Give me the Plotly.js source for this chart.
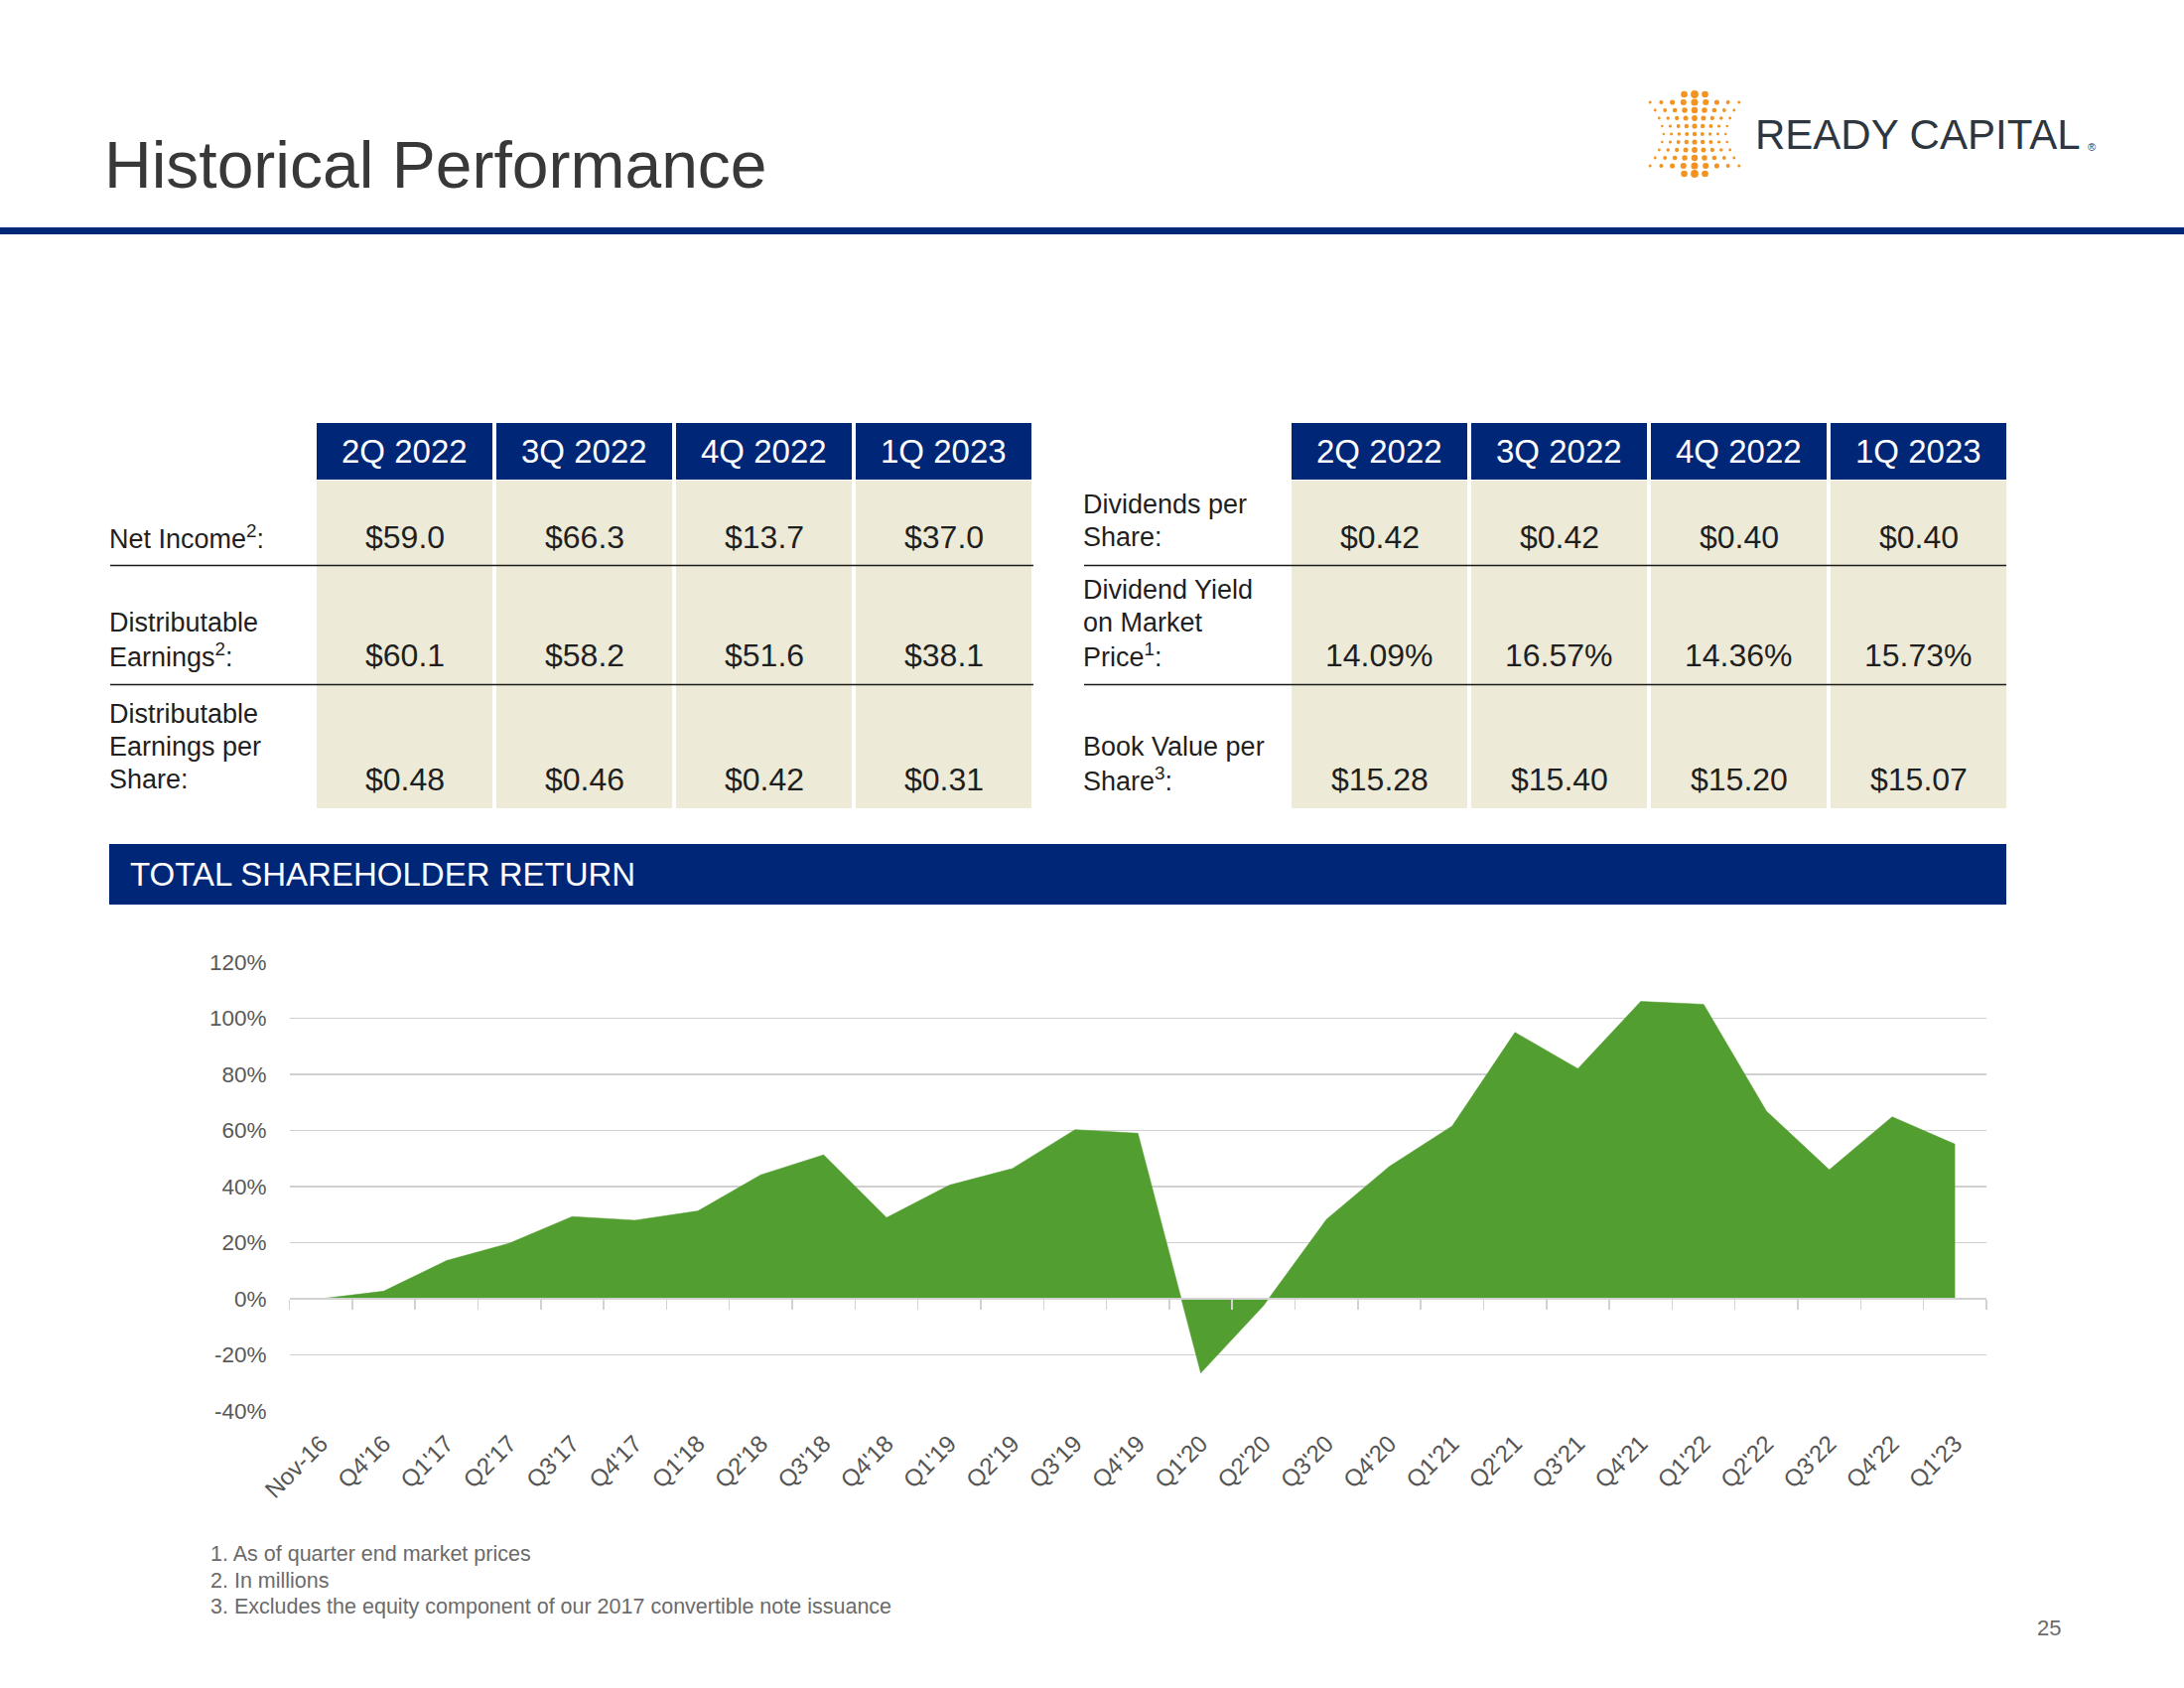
<!DOCTYPE html>
<html>
<head>
<meta charset="utf-8">
<script src="https://cdn.plot.ly/plotly-3.0.1.min.js"></script>
<style>
html,body{margin:0;padding:0;background:#ffffff;}
#chart{width:2200px;height:1700px;}
</style>
</head>
<body>
<div id="chart"></div>
<script>
// ---------------- DATA ----------------
const quarters = ["Nov-16","Q4'16","Q1'17","Q2'17","Q3'17","Q4'17","Q1'18","Q2'18","Q3'18","Q4'18",
  "Q1'19","Q2'19","Q3'19","Q4'19","Q1'20","Q2'20","Q3'20","Q4'20","Q1'21","Q2'21",
  "Q3'21","Q4'21","Q1'22","Q2'22","Q3'22","Q4'22","Q1'23"];
const totalReturn = [0, 2.7, 13.6, 19.8, 29.3, 28.0, 31.3, 44.2, 51.3, 28.9,
  40.5, 46.4, 60.3, 59.0, -26.5, -2.4, 28.3, 47.2, 61.6, 95.0,
  82.0, 106.0, 105.0, 66.9, 46.0, 64.9, 55.1];
const yTickValues = [-40, -20, 0, 20, 40, 60, 80, 100, 120];

const tableQuarters = ["2Q 2022","3Q 2022","4Q 2022","1Q 2023"];
const leftLabels = ["Net Income<sup>2</sup>:", "Distributable<br>Earnings<sup>2</sup>:", "Distributable<br>Earnings per<br>Share:"];
const netIncome = ["$59.0","$66.3","$13.7","$37.0"];
const distributableEarnings = ["$60.1","$58.2","$51.6","$38.1"];
const distributableEPS = ["$0.48","$0.46","$0.42","$0.31"];
const rightLabels = ["Dividends per<br>Share:", "Dividend Yield<br>on Market<br>Price<sup>1</sup>:", "Book Value per<br>Share<sup>3</sup>:"];
const dividendsPerShare = ["$0.42","$0.42","$0.40","$0.40"];
const dividendYield = ["14.09%","16.57%","14.36%","15.73%"];
const bookValuePerShare = ["$15.28","$15.40","$15.20","$15.07"];

const pageTitle = "Historical Performance";
const sectionTitle = "TOTAL SHAREHOLDER RETURN";
const logoText = "READY CAPITAL";
const footnotes = ["1. As of quarter end market prices", "2. In millions", "3. Excludes the equity component of our 2017 convertible note issuance"];
const pageNumber = "25";

// ---------------- LAYOUT HELPERS ----------------
const W = 2200, H = 1700;
const px = x => x / W;
const py = y => 1 - y / H;
const FONT = "Liberation Sans, Arial, sans-serif";
const NAVY = "#002677";
const BEIGE = "#edebd7";
const GREEN = "#529e31";

const shapes = [];
const anns = [];

function rect(x0, y0, x1, y1, color) {
  shapes.push({type:"rect", xref:"paper", yref:"paper", x0:px(x0), x1:px(x1), y0:py(y1), y1:py(y0),
    fillcolor:color, line:{width:0}, layer:"below"});
}
function hline(x0, x1, y, color, w) {
  shapes.push({type:"line", xref:"paper", yref:"paper", x0:px(x0), x1:px(x1), y0:py(y), y1:py(y),
    line:{color:color, width:w}});
}
function text(x, y, t, o) {
  anns.push({xref:"paper", yref:"paper", x:px(x), y:py(y), text:t, showarrow:false,
    xanchor:o.xanchor || "center", yanchor:o.yanchor || "middle", align:o.align || "left",
    font:{family:FONT, size:o.size, color:o.color}});
}

// title + rule
text(103, 166, pageTitle, {xanchor:"left", size:66, color:"#383838"});
rect(0, 229, 2200, 236, NAVY);

// logo text
text(1766, 136, logoText, {xanchor:"left", size:42, color:"#2e3640"});
text(2107, 148, "®", {xanchor:"center", size:11, color:"#2e3640"});
// logo dots (decorative)
(function(){
  const cx = 1707, top = 95, step = 8;
  for (let r = 0; r <= 10; r++) {
    const yy = top + r * step;
    const edge = Math.abs(r - 5) / 5;
    const cols = (r === 0 || r === 10) ? [-1,0,1] : [-4,-3,-2,-1,0,1,2,3,4];
    const spread = (r === 0 || r === 10) ? 10.5 : 7.8 + 3.4 * Math.pow(Math.abs(r - 5) / 4, 1.6);
    cols.forEach(c => {
      const xx = cx + c * spread;
      const centr = 1 - Math.abs(c) / 5;
      const rad = 1.0 + 1.2 * centr + 1.7 * edge * centr;
      shapes.push({type:"circle", xref:"paper", yref:"paper", x0:px(xx - rad), x1:px(xx + rad),
        y0:py(yy + rad), y1:py(yy - rad), fillcolor:"#f39322", line:{width:0}});
    });
  }
})();

// ---------------- TABLES ----------------
const rowY = [541, 660, 785];
const lineGap = 33;
function drawTable(colX, labelX, lineEnd, labels, rows) {
  const cw = 177;
  colX.forEach((x, i) => {
    rect(x, 426, x + cw, 483, NAVY);
    rect(x, 484, x + cw, 814, BEIGE);
    text(x + cw / 2, 455, tableQuarters[i], {size:33, color:"#ffffff"});
  });
  hline(labelX, lineEnd, 569.5, "#1a1a1a", 1.6);
  hline(labelX, lineEnd, 689.5, "#1a1a1a", 1.6);
  labels.forEach((lab, i) => {
    const lines = lab.split("<br>");
    lines.forEach((ln, k) => {
      text(labelX - 3, rowY[i] - (lines.length - 1 - k) * lineGap, ln, {xanchor:"left", size:27, color:"#1f1f1f"});
    });
    rows[i].forEach((v, j) => {
      text(colX[j] + cw / 2, rowY[i], v, {size:32, color:"#1f1f1f"});
    });
  });
}
drawTable([319, 500, 681, 862], 111, 1041, leftLabels, [netIncome, distributableEarnings, distributableEPS]);
drawTable([1301, 1482, 1663, 1844], 1092, 2021, rightLabels, [dividendsPerShare, dividendYield, bookValuePerShare]);

// section band
rect(110, 850, 2021, 911, NAVY);
text(129, 880, sectionTitle, {xanchor:"left", size:33, color:"#ffffff"});

// footnotes + page number
footnotes.forEach((f, i) => text(210, 1565 + i * 26.5, f, {xanchor:"left", size:21.5, color:"#6b6b6b"}));
text(2064, 1639, pageNumber, {size:22, color:"#6b6b6b"});

// ---------------- CHART ----------------
const yMin = -40, yMax = 120;
const plotL = 291.5, plotR = 2001, plotT = 969, plotB = 1421;
const yDom = [py(plotB), py(plotT)];
const zeroPos = yDom[0] + (0 - yMin) / (yMax - yMin) * (yDom[1] - yDom[0]);

const traces = [
  {type:"scatter", mode:"lines", x:quarters, y:totalReturn, xaxis:"x", yaxis:"y",
   fill:"tozeroy", fillcolor:GREEN, line:{color:GREEN, width:0.5}, hoverinfo:"skip", showlegend:false},
  {type:"scatter", mode:"lines", x:quarters, y:totalReturn, xaxis:"x2", yaxis:"y",
   line:{color:"rgba(0,0,0,0)", width:0}, opacity:0, hoverinfo:"skip", showlegend:false}
];

const layout = {
  width:W, height:H, margin:{l:0, r:0, t:0, b:0},
  paper_bgcolor:"#ffffff", plot_bgcolor:"rgba(0,0,0,0)",
  showlegend:false,
  font:{family:FONT},
  xaxis:{domain:[px(plotL), px(plotR)], type:"category", categoryorder:"array", categoryarray:quarters,
    range:[-0.5, quarters.length - 0.5], anchor:"free", position:zeroPos,
    showline:true, linecolor:"#d2d2d2", linewidth:2, ticks:"outside", tickson:"boundaries",
    ticklen:10, tickwidth:1.5, tickcolor:"#d2d2d2", showticklabels:false, showgrid:false, zeroline:false,
    fixedrange:true},
  xaxis2:{overlaying:"x", anchor:"y", side:"bottom", type:"category", categoryorder:"array", categoryarray:quarters,
    range:[-0.5, quarters.length - 0.5], showline:false, showgrid:false, zeroline:false, ticks:"",
    tickangle:-45, ticklabelstandoff:13, tickfont:{family:FONT, size:24, color:"#555555"}, fixedrange:true},
  yaxis:{domain:yDom, range:[yMin, yMax], tickmode:"array", tickvals:yTickValues,
    ticktext:yTickValues.map(v => v + "%"), showgrid:true, gridcolor:"#d0d0d0", gridwidth:1.5,
    zeroline:false, showline:false, ticks:"", ticklabelstandoff:22,
    tickfont:{family:FONT, size:22.5, color:"#595959"}, fixedrange:true},
  shapes:shapes,
  annotations:anns
};

Plotly.newPlot("chart", traces, layout, {staticPlot:true, displayModeBar:false});
</script>
</body>
</html>
